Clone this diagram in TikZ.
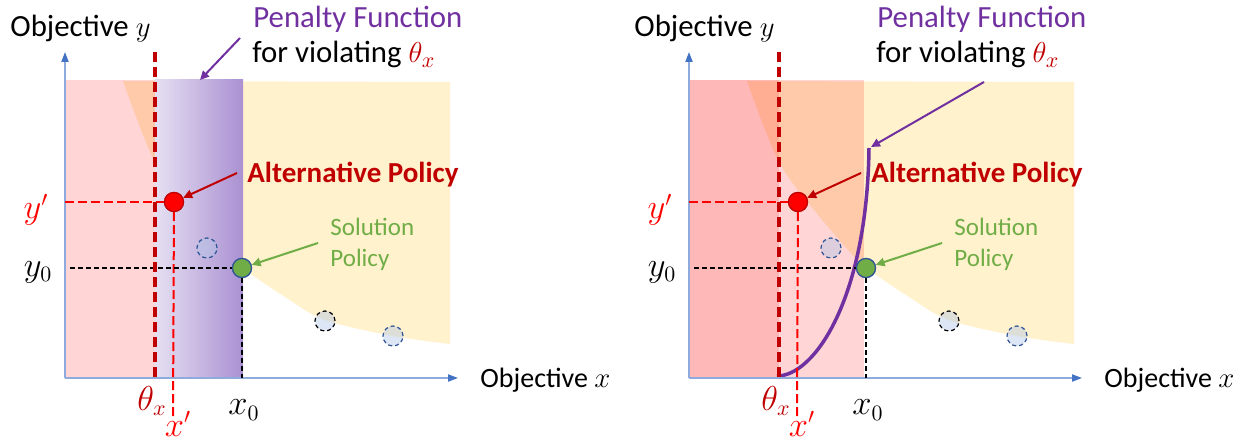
\documentclass[tikz,border=0pt]{standalone}
\usepackage{fontspec}
\setmainfont{Carlito}
\usetikzlibrary{arrows.meta}
\definecolor{axl}{HTML}{8FAADC}
\definecolor{axt}{HTML}{4472C4}
\definecolor{dred}{HTML}{C00000}
\definecolor{pur}{HTML}{7030A0}
\definecolor{grn}{HTML}{70AD47}
\definecolor{gedge}{HTML}{2F5597}
\definecolor{ylw}{HTML}{FFF2CC}
\definecolor{lav}{HTML}{E6E0F2}
\definecolor{lavd}{HTML}{AA90D2}
\definecolor{cfill}{HTML}{B4C7E7}
\tikzset{
  axisline/.style={draw=axl, line width=0.75pt, -{Triangle[length=5pt,width=3.6pt,color=axt]}},
  thdash/.style={draw=dred, line width=1.75pt, dash pattern=on 5pt off 2.5pt},
  rdash/.style={draw=red, line width=1pt, dash pattern=on 4.5pt off 2pt},
  kdash/.style={draw=black, line width=0.6pt, dash pattern=on 2.5pt off 1.5pt},
  dotpt/.style={circle, minimum size=9.5pt, inner sep=0pt, line width=0.6pt},
  redpt/.style={dotpt, fill=red, draw=dred},
  grnpt/.style={dotpt, fill=grn, draw=gedge},
  dcirc/.style={circle, minimum size=10pt, inner sep=0pt, line width=0.6pt,
    dash pattern=on 2pt off 1.5pt, fill=cfill, fill opacity=0.45},
  arr/.style={line width=1pt, -{Triangle[length=4.5pt,width=4.2pt]}},
  lbl/.style={font=\fontsize{14}{16}\selectfont, inner sep=0pt},
  tlbl/.style={font=\fontsize{15.4}{18}\selectfont, inner sep=0pt},
  mlbl/.style={font=\fontsize{16}{18}\selectfont, inner sep=0pt},
  blbl/.style={font=\fontsize{14.5}{17}\selectfont\bfseries, inner sep=0pt, text=dred},
  slbl/.style={font=\fontsize{12.5}{15.5}\selectfont, inner sep=0pt, text=grn, align=left},
  yreg/.style={fill=ylw},
  pcurve/.style={draw=pur, line width=1.75pt},
}
\newcommand{\yellowregion}{%
  \fill[yreg] (123,81) -- (450,82) -- (450,344)
    plot[smooth, tension=0.55] coordinates {(450,344) (393,336) (325,320) (285,297) (242,268) (233,260) (190,210) (154,160) (123,81)} -- cycle;
}
\newcommand{\commonpanel}[1]{%
  % axes
  \coordinate (#1o) at (65,378);
  \coordinate (#1ytop) at (65,52);
  \coordinate (#1xend) at (458,378);
  \draw[axisline] (#1o) -- (#1ytop);
  \draw[axisline] (#1o) -- (#1xend);
  % points
  \node[redpt] (#1r) at (174,202) {};
  \node[grnpt] (#1g) at (242,268) {};
  % guide lines
  \coordinate (#1yl) at (65,202);
  \coordinate (#1xl) at (173,416);
  \coordinate (#1y0l) at (70,268);
  \coordinate (#1x0l) at (242,378);
  \draw[rdash] (#1yl) -- (#1r);
  \draw[rdash] (#1r) -- (#1xl);
  \draw[kdash] (#1y0l) -- (#1g);
  \draw[kdash] (#1g) -- (#1x0l);
  % threshold
  \coordinate (#1tt) at (155,52);
  \coordinate (#1tb) at (155,378);
  \draw[thdash] (#1tt) -- (#1tb);
  \node[redpt] at (#1r) {};
  \node[grnpt] at (#1g) {};
  % other solutions
  \node[dcirc, draw=gedge] (#1c1) at (207,248) {};
  \node[dcirc, draw=black] (#1c2) at (325,321) {};
  \node[dcirc, draw=gedge] (#1c3) at (393,336) {};
  % labels
  \node[tlbl, anchor=base west] (#1objy) at (10,37) {Objective $y$};
  \node[lbl, anchor=base west] (#1objx) at (480,387) {Objective $x$};
  \node[tlbl, anchor=base west, text=pur] (#1pf) at (253,28) {Penalty Function};
  \node[tlbl, anchor=base west] (#1fv) at (252,63) {for violating \textcolor{dred}{$\theta_x$}};
  \node[blbl, anchor=base west] (#1alt) at (247,183) {Alternative Policy};
  \node[slbl, anchor=base west] (#1sol) at (330,267) {Solution\\Policy};
  \node[mlbl, text=red] (#1yp) at (36,210) {$y'$};
  \node[mlbl] (#1yz) at (38,272) {$y_0$};
  \node[mlbl, text=dred] (#1th) at (152,401) {$\theta_x$};
  \node[mlbl, text=red] (#1xp) at (178,424) {$x'$};
  \node[mlbl] (#1xz) at (244,410) {$x_0$};
  % arrows
  \coordinate (#1ra) at (237,173);
  \coordinate (#1ga) at (318,243);
  \draw[arr, draw=dred, fill=dred] (#1ra) -- (#1r);
  \draw[arr, draw=grn, fill=grn] (#1ga) -- (#1g);
}
\begin{document}
\begin{tikzpicture}[x=0.5pt, y=-0.5pt]
\useasboundingbox (0,0) rectangle (1247,443);
% ---------------- left panel ----------------
\begin{scope}
  \yellowregion
  \fill[red, opacity=0.165] (65,80) rectangle (155,378);
  \shade[left color=lav, right color=lavd] (155,80) rectangle (243,378);
  \commonpanel{L}
  \coordinate (Lpa) at (240,38);
  \coordinate (Lpe) at (200,80);
  \draw[arr, draw=pur, fill=pur] (Lpa) -- (Lpe);
\end{scope}
% ---------------- right panel ----------------
\begin{scope}[xshift=312pt]
  \yellowregion
  \fill[red, opacity=0.28] (65,80) rectangle (155,378);
  \fill[red, opacity=0.165] (155,80) rectangle (240,378);
  \draw[pcurve] (153,376) .. controls (190,376) and (243,300) .. (245,148);
  \commonpanel{R}
  \coordinate (Rpa) at (360,82);
  \coordinate (Rpe) at (247,147);
  \draw[arr, draw=pur, fill=pur] (Rpa) -- (Rpe);
\end{scope}
\end{tikzpicture}
\end{document}
